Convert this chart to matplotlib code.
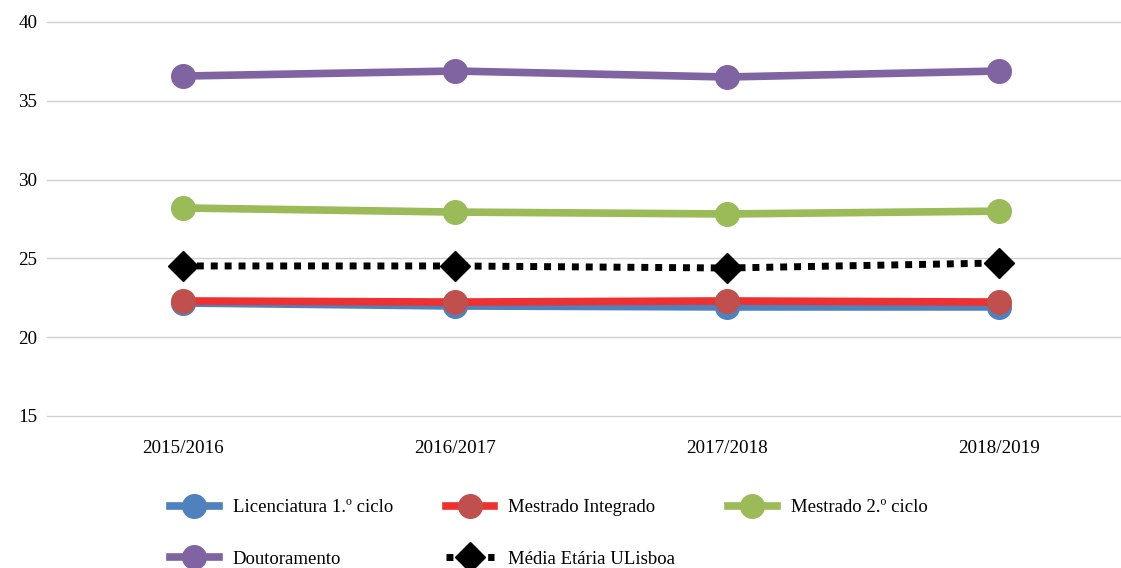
import matplotlib.pyplot as plt

plt.rcParams['font.family'] = ['Liberation Serif', 'DejaVu Serif']

#Academic years on the x axis
years = ["2015/2016", "2016/2017", "2017/2018", "2018/2019"]

#Average age per study cycle
licenciatura = [22.17, 21.98, 21.92, 21.92]
mestrado_integrado = [22.30, 22.23, 22.30, 22.23]
mestrado_2ciclo = [28.20, 27.94, 27.82, 28.00]
doutoramento = [36.57, 36.89, 36.51, 36.89]
media_ulisboa = [24.52, 24.52, 24.39, 24.71]

fig = plt.figure(figsize=(11.21, 5.68), dpi=100)
ax = fig.add_axes([47/1121, 152/568, 1088/1121, 394/568])

x = range(len(years))
ms = 17
lw = 5.5

l1, = ax.plot(x, licenciatura, color="#4F81BD", lw=lw, marker="o", ms=ms,
              mfc="#4F81BD", mec="#4F81BD", label="Licenciatura 1.º ciclo", zorder=3)
l2, = ax.plot(x, mestrado_integrado, color="#EE3030", lw=lw, marker="o", ms=ms,
              mfc="#C0504D", mec="#C0504D", label="Mestrado Integrado", zorder=4)
l3, = ax.plot(x, mestrado_2ciclo, color="#9BBB59", lw=lw, marker="o", ms=ms,
              mfc="#9BBB59", mec="#9BBB59", label="Mestrado 2.º ciclo", zorder=3)
l4, = ax.plot(x, doutoramento, color="#8064A2", lw=lw, marker="o", ms=ms,
              mfc="#8064A2", mec="#8064A2", label="Doutoramento", zorder=3)
l5, = ax.plot(x, media_ulisboa, color="black", lw=5, ls=(0, (1, 1)),
              dash_capstyle="butt", marker="D", ms=15, mfc="black", mec="black",
              label="Média Etária ULisboa", zorder=5)

ax.set_xlim(-0.5, 3.5)
ax.set_ylim(15, 40)
ax.set_yticks([15, 20, 25, 30, 35, 40])
ax.set_xticks(list(x))
ax.set_xticklabels(years)
ax.tick_params(length=0, labelsize=13.8)
ax.tick_params(axis="y", pad=7)
ax.tick_params(axis="x", pad=17)
ax.yaxis.grid(True, color="#d0d0d0", lw=1)
for g in ax.get_ygridlines():
    g.set_clip_on(False)
ax.set_axisbelow(True)
for s in ax.spines.values():
    s.set_visible(False)

#Column-major order so rows read Lic, MI, M2 / Dout, Media
handles = [l1, l4, l2, l5, l3]
fig.legend(handles, [h.get_label() for h in handles], ncol=3,
           loc="upper left", bbox_to_anchor=(170/1121, 1 - 499/568),
           frameon=False, fontsize=13.5, handlelength=2.6, handletextpad=0.75,
           columnspacing=2.8, labelspacing=1.85, borderpad=0, borderaxespad=0)

fig.savefig("out.png", dpi=100)
